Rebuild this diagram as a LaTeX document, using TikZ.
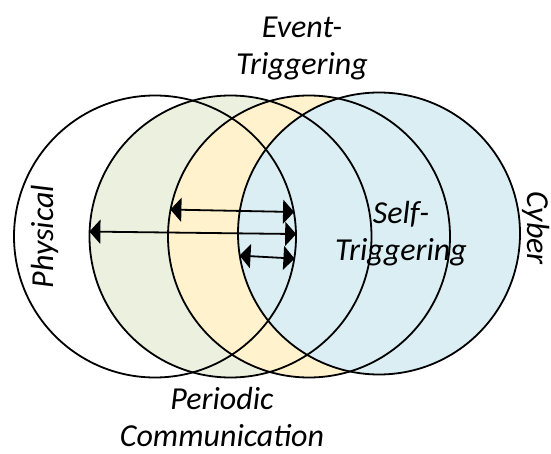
\documentclass[tikz,border=0pt]{standalone}
\usepackage{fontspec}
\setmainfont{Carlito}
\usetikzlibrary{arrows.meta}
\definecolor{periodicgreen}{HTML}{EBF1DE}
\definecolor{eventyellow}{HTML}{FFF2CC}
\definecolor{selfblue}{HTML}{DAEEF3}
\begin{document}
\begin{tikzpicture}[x=1pt,y=-1pt,
        region/.style={circle,minimum size=282pt,inner sep=0pt},
        outline/.style={line width=1.8pt,black},
        span/.style={line width=1.8pt,black,{Triangle[length=11pt,width=24pt]}-{Triangle[length=11pt,width=24pt]}},
        lettering/.style={font=\itshape\fontsize{32}{37}\selectfont,align=center,inner sep=0pt}]
    \useasboundingbox (0,0) rectangle (551,454);
    \foreach \name/\x/\y/\col in {phys/155/236.5/white,per/230.5/236.5/periodicgreen,event/309/236.5/eventyellow,self/379/233.5/selfblue}
        \node[region,fill=\col] (\name) at (\x,\y) {};
    \foreach \name in {phys,per,event,self}
        \draw[outline] (\name.center) circle[radius=141pt];
    \draw[span] (event.169.8) -- (phys.10.2);
    \draw[span] (per.178.7) -- (phys.1.3);
    \draw[span] (self.189.5) -- (phys.351.8);
    \node[lettering,anchor=base] (eventlbl) at (302,75) {Event-\\Triggering};
    \node[lettering,anchor=base] (selflbl) at (401,261) {Self-\\Triggering};
    \node[lettering,anchor=base] (perlbl) at (222,446) {Periodic\\Communication};
    \node[lettering,anchor=base,rotate=90] (physlbl) at (53,236.5) {Physical};
    \node[lettering,anchor=base,rotate=-90] (cyberlbl) at (527,228) {Cyber};
\end{tikzpicture}
\end{document}
